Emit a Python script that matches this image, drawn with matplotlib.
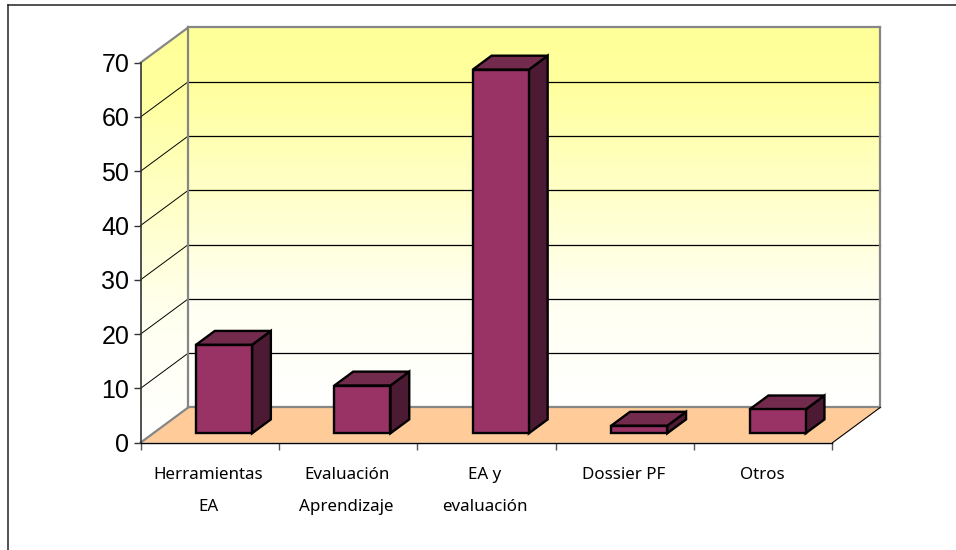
import matplotlib
matplotlib.use('Agg')
import matplotlib.pyplot as plt
import numpy as np
from matplotlib.colors import LinearSegmentedColormap
from matplotlib.lines import Line2D
from matplotlib.patches import Polygon

# Values
categories = ['Herramientas\nEA', 'Evaluación\nAprendizaje', 'EA y\nevaluación', 'Dossier PF', 'Otros']
values = [16.3, 8.8, 67.0, 1.4, 4.4]
y_ticks = [0, 10, 20, 30, 40, 50, 60, 70]

W, H = 956, 550

# Front plane of the chart in pixels
left_px, right_px = 140.5, 832.5
top_px, bottom_px = 62.7, 442.7

# How far the back wall is shifted from the front plane, in pixels
depth_dx, depth_dy = 47.8, 35.3

# Bar layout, in category widths and fractions of the depth
bar_lo, bar_hi = 0.309, 0.714
depth_lo, depth_hi = 0.266, 0.66

front_color = '#993366'
top_color = '#732B4D'
side_color = '#4D1A33'
floor_color = '#FFCC99'
wall_edge = '#868686'

fig = plt.figure(figsize=(W / 100, H / 100), dpi=100)
ax = fig.add_axes([left_px / W, 1 - bottom_px / H, (right_px - left_px) / W, (bottom_px - top_px) / H])
ax.patch.set_visible(False)

n_cat = len(categories)
y_max = y_ticks[-1]
x_scale = (right_px - left_px) / n_cat
y_scale = (bottom_px - top_px) / y_max


def project(cat, val, depth):
    # category, value and depth (0 front, 1 back) to data coordinates of the front plane
    return cat + depth * depth_dx / x_scale, val + depth * depth_dy / y_scale


def face(corners, **kwargs):
    patch = Polygon([project(*c) for c in corners], closed=True, clip_on=False, **kwargs)
    ax.add_patch(patch)
    return patch


def edge(start, end, color, width, z=3):
    a = project(*start)
    b = project(*end)
    ax.plot([a[0], b[0]], [a[1], b[1]], color=color, lw=width, clip_on=False, zorder=z,
            solid_capstyle='projecting')


# Walls with the yellow to white gradient
wall_cmap = LinearSegmentedColormap.from_list(
    'wall', [(0, '#FFFFFF'), (0.3, '#FFFFF0'), (0.85, '#FFFF9E'), (1, '#FFFF99')])
gradient = np.linspace(1, 0, 256).reshape(-1, 1)

back_x0, back_y0 = project(0, 0, 1)
back_x1, back_y1 = project(n_cat, y_max, 1)
back_wall = ax.imshow(gradient, extent=[back_x0, back_x1, back_y0, back_y1], cmap=wall_cmap,
                      aspect='auto', vmin=0, vmax=1, zorder=1)
back_wall.set_clip_on(False)

side_wall = ax.imshow(gradient, extent=[0, back_x0, 0, back_y1], cmap=wall_cmap,
                      aspect='auto', vmin=0, vmax=1, zorder=1)
side_shape = face([(0, 0, 0), (0, 0, 1), (0, y_max, 1), (0, y_max, 0)], fill=False, lw=0)
side_wall.set_clip_box(fig.bbox)
side_wall.set_clip_path(side_shape)

ax.set_xlim(0, n_cat)
ax.set_ylim(0, y_max)

# Grid lines on both walls
for v in y_ticks[1:-1]:
    edge((0, v, 0), (0, v, 1), 'black', 0.7, z=2)
    edge((0, v, 1), (n_cat, v, 1), 'black', 0.9, z=2)

# Floor
face([(0, 0, 0), (n_cat, 0, 0), (n_cat, 0, 1), (0, 0, 1)], facecolor=floor_color, edgecolor='none', zorder=2)

# Wall borders
edge((0, 0, 1), (0, y_max, 1), wall_edge, 1.6)
edge((0, y_max, 1), (n_cat, y_max, 1), wall_edge, 1.6)
edge((n_cat, 0, 1), (n_cat, y_max, 1), wall_edge, 1.6)
edge((0, 0, 1), (n_cat, 0, 1), wall_edge, 1.6)
edge((0, 0, 0), (0, 0, 1), wall_edge, 1.6)
edge((0, y_max, 0), (0, y_max, 1), wall_edge, 1.6)
edge((n_cat, 0, 0), (n_cat, 0, 1), 'black', 0.8)

# Bars
for i, val in enumerate(values):
    x0, x1 = i + bar_lo, i + bar_hi
    style = dict(edgecolor='black', lw=1.7, joinstyle='miter', zorder=5)
    face([(x1, 0, depth_lo), (x1, 0, depth_hi), (x1, val, depth_hi), (x1, val, depth_lo)],
         facecolor=side_color, **style)
    face([(x0, val, depth_lo), (x1, val, depth_lo), (x1, val, depth_hi), (x0, val, depth_hi)],
         facecolor=top_color, **style)
    face([(x0, 0, depth_lo), (x1, 0, depth_lo), (x1, val, depth_lo), (x0, val, depth_lo)],
         facecolor=front_color, **style)

# Axes
for name in ['top', 'right']:
    ax.spines[name].set_visible(False)
ax.spines['left'].set_color('#333333')
ax.spines['left'].set_linewidth(1.2)
ax.spines['bottom'].set_color('black')
ax.spines['bottom'].set_linewidth(1.0)
ax.spines['left'].set_zorder(4)
ax.spines['bottom'].set_zorder(4)

ax.set_yticks(y_ticks)
ax.set_yticklabels([str(v) for v in y_ticks], fontsize=18, family='Liberation Sans')
ax.tick_params(axis='y', length=5, width=1.0, color='#333333', pad=3)

ax.set_xticks(np.arange(n_cat + 1))
ax.set_xticklabels([])
ax.tick_params(axis='x', which='major', length=5, width=1.0, color='#555555')
ax.set_xticks(np.arange(n_cat) + 0.49, minor=True)
ax.set_xticklabels(categories, minor=True, fontsize=12.2, family='Noto Sans', linespacing=2.33, va='top')
ax.tick_params(axis='x', which='minor', length=0, pad=17.5)

# Outer frame of the chart, only the top and left sides are inside the picture
fig.add_artist(Line2D([7.5 / W, 7.5 / W], [0, 1 - 5 / H], color='#222222', lw=1.1, transform=fig.transFigure))
fig.add_artist(Line2D([7.5 / W, 1], [1 - 5 / H, 1 - 5 / H], color='#222222', lw=1.1, transform=fig.transFigure))

fig.savefig('out.png', dpi=100)
